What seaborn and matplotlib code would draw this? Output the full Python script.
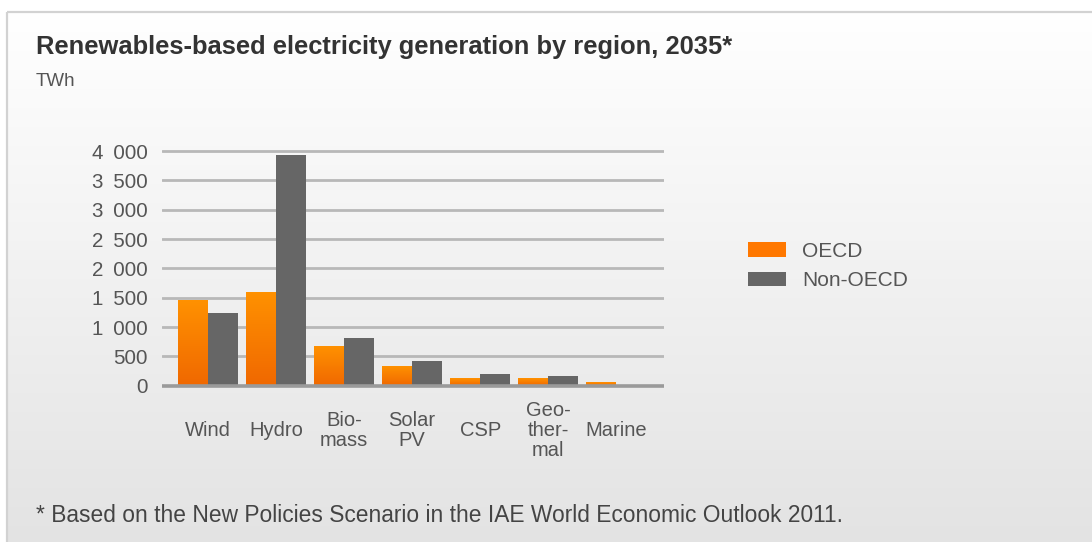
import numpy as np
import pandas as pd
import matplotlib
matplotlib.use("Agg")
import matplotlib.pyplot as plt
from matplotlib.patches import Rectangle, Patch
import seaborn as sns

# Renewables-based electricity generation in 2035, TWh
sources = ["Wind", "Hydro", "Bio-\nmass", "Solar\nPV", "CSP", "Geo-\nther-\nmal", "Marine"]
oecd = [1460, 1600, 670, 330, 130, 130, 65]
non_oecd = [1240, 3930, 820, 420, 200, 160, 5]
regions = ["OECD", "Non-OECD"]
y_ticks = [0, 500, 1000, 1500, 2000, 2500, 3000, 3500, 4000]
y_tick_labels = ["0", "500", "1 \u2009000", "1 \u2009500", "2 \u2009000", "2 \u2009500",
                 "3 \u2009000", "3 \u2009500", "4 \u2009000"]

title = "Renewables-based electricity generation by region, 2035*"
unit = "TWh"
footnote = "* Based on the New Policies Scenario in the IAE World Economic Outlook 2011."

ORANGE = "#ff7800"
GRAY = "#666666"

df = pd.DataFrame({
    "source": sources * 2,
    "region": [regions[0]] * len(sources) + [regions[1]] * len(sources),
    "TWh": oecd + non_oecd,
})

sns.set_theme(style="white")
plt.rcParams["font.family"] = ["Liberation Sans", "DejaVu Sans"]

W, H = 1092, 542
fig = plt.figure(figsize=(W / 100, H / 100), dpi=100)
fig.patch.set_facecolor("white")

# Panel background: vertical grey gradient inside a light frame
bg = fig.add_axes([0, 0, 1, 1])
bg.set_xlim(0, W)
bg.set_ylim(H, 0)
bg.axis("off")
grad = np.linspace(1.0, 0.89, 256).reshape(-1, 1)
grad = np.dstack([grad, grad, grad])
bg.imshow(grad, extent=[7, W + 5, H + 5, 12], aspect="auto", interpolation="bicubic", zorder=0)
bg.add_patch(Rectangle((7, 12), W, H, fill=False, edgecolor="#d2d2d2", linewidth=1.6, zorder=1))

bg.text(36, 47, title, fontsize=18.4, fontweight="bold", color="#333333", va="center", ha="left")
bg.text(36, 81, unit, fontsize=13.5, color="#555555", va="center", ha="left")
bg.text(36, 516, footnote, fontsize=16.4, color="#444444", va="center", ha="left")

# Main chart area
ax_l, ax_r, ax_t, ax_b = 162, 664, 145, 390
ax = fig.add_axes([ax_l / W, 1 - ax_b / H, (ax_r - ax_l) / W, (ax_b - ax_t) / H])
ax.set_facecolor("none")

sns.barplot(data=df, x="source", y="TWh", hue="region", palette=[ORANGE, GRAY],
            width=0.88, gap=0, saturation=1, ax=ax, legend=False, zorder=3,
            linewidth=0, errorbar=None)

# Orange bars get a top-to-bottom gradient
orange_grad = np.linspace(0, 1, 64).reshape(-1, 1)
cmap = matplotlib.colors.LinearSegmentedColormap.from_list("og", ["#ff9100", "#f06800"])
for bar in ax.containers[0]:
    x0, y0 = bar.get_x(), bar.get_y()
    w, h = bar.get_width(), bar.get_height()
    im = ax.imshow(orange_grad, cmap=cmap, extent=[x0, x0 + w, y0, y0 + h],
                   aspect="auto", origin="upper", zorder=3.5)
    im.set_clip_path(bar)

ax.set_xlim(-0.675, 6.70)
ax.set_ylim(-73, 4103)
ax.set_yticks(y_ticks)
ax.set_yticklabels(y_tick_labels)
ax.set_xlabel("")
ax.set_ylabel("")
for s in ax.spines.values():
    s.set_visible(False)

for v in y_ticks:
    ax.axhline(v, color="#9a9a9a" if v == 0 else "#b8b8b8",
               linewidth=2.6 if v == 0 else 2.0, zorder=4 if v == 0 else 1)

ax.tick_params(axis="y", length=0, pad=10, labelsize=14.8, labelcolor="#555555")
ax.tick_params(axis="x", length=0, pad=29, labelsize=14.5, labelcolor="#555555")
for lbl in ax.get_xticklabels():
    lbl.set_verticalalignment("center")
    lbl.set_linespacing(1.05)

handles = [Patch(facecolor=ORANGE, edgecolor="none"), Patch(facecolor=GRAY, edgecolor="none")]
fig.legend(handles, regions, loc="center left", bbox_to_anchor=(748 / W, 1 - 266 / H),
           frameon=False, fontsize=15, labelcolor="#555555", handlelength=1.83,
           handleheight=0.67, handletextpad=0.77, labelspacing=0.5, borderpad=0, borderaxespad=0)

fig.savefig("out.png", dpi=100)
